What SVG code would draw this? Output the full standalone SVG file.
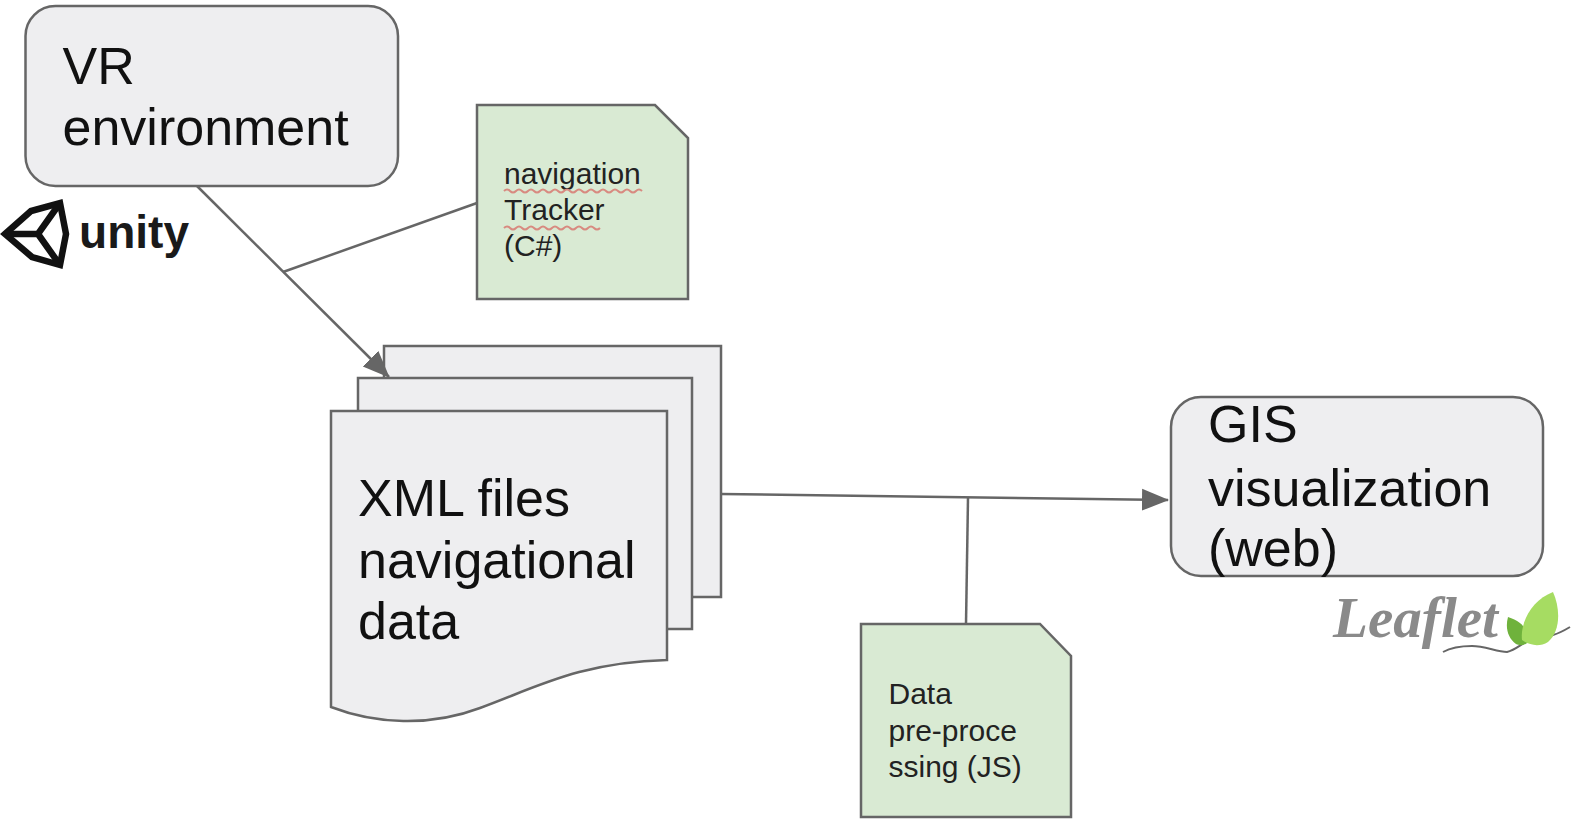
<svg xmlns="http://www.w3.org/2000/svg" width="1583" height="821" viewBox="0 0 1583 821">
<style>
.s{fill:#eeeef0;stroke:#666;stroke-width:2.5}
.n{fill:#d9ead3;stroke:#666;stroke-width:2.5}
.big{font-family:"Liberation Sans",Arial,sans-serif;font-size:52px;fill:#111}
.sm{font-family:"Liberation Sans",Arial,sans-serif;font-size:30px;fill:#222}
.c{fill:none;stroke:#666;stroke-width:2.5}
.w{fill:none;stroke:#d88a80;stroke-width:2}
</style>
<defs>
<marker id="a" markerUnits="userSpaceOnUse" markerWidth="30" markerHeight="24" refX="26" refY="12" orient="auto">
<path d="M0 1L27 12L0 23Z" fill="#666"/>
</marker>
</defs>
<rect width="1583" height="821" fill="#fff"/>
<g id="vr">
<rect class="s" x="25.500" y="6" width="372.500" height="180" rx="30"/>
<text class="big" x="62.500" y="84">VR</text>
<text class="big" x="62.500" y="145">environment</text>
</g>
<g id="unity">
<g fill="none" stroke="#111" stroke-width="6.500" stroke-linejoin="miter">
<path d="M5 234L31 211L60 203L66 234L60 265L32 257Z"/>
<path d="M5 234H38L60 203M38 234L60 265"/>
</g>
<text x="79" y="248" font-family="'Liberation Sans',Arial,sans-serif" font-weight="700" font-size="46px" fill="#1a1a1a" textLength="110" lengthAdjust="spacingAndGlyphs">unity</text>
</g>
<g id="tracker">
<path class="n" d="M477 105H655L688 138V299H477Z"/>
<text class="sm" x="504" y="183.500">navigation</text>
<text class="sm" x="504" y="219.500">Tracker</text>
<text class="sm" x="504" y="256">(C#)</text>
<path class="w" d="M504 191q3-3 6 0t6 0t6 0t6 0t6 0t6 0t6 0t6 0t6 0t6 0t6 0t6 0t6 0t6 0t6 0t6 0t6 0t6 0t6 0t6 0t6 0t6 0t6 0"/>
<path class="w" d="M504 228q3-3 6 0t6 0t6 0t6 0t6 0t6 0t6 0t6 0t6 0t6 0t6 0t6 0t6 0t6 0t6 0t6 0"/>
</g>
<g id="xml">
<path class="s" d="M384 346H721V597H384Z"/>
<path class="s" d="M358 378H692V629H358Z"/>
<path class="s" d="M331 411H667V660C580 662 535 688 480 708C430 727 375 724 331 707Z"/>
<text class="big" x="358" y="516">XML files</text>
<text class="big" x="358" y="578">navigational</text>
<text class="big" x="358" y="639">data</text>
</g>
<g id="gis">
<rect class="s" x="1171" y="397" width="372" height="179" rx="30"/>
<text class="big" x="1208" y="442">GIS</text>
<text class="big" x="1208" y="506">visualization</text>
<text class="big" x="1208" y="566">(web)</text>
</g>
<g id="leaflet">
<text x="1333" y="637" font-family="'Liberation Serif',serif" font-style="italic" font-weight="700" font-size="56px" fill="#8a8a8a" textLength="165" lengthAdjust="spacingAndGlyphs">Leaflet</text>
<path d="M1443 652C1452 647 1462 646 1472 646C1485 646 1497 652 1507 652C1516 650 1522 643 1530 640C1540 640 1548 638 1553 635C1560 633 1565 630 1570 627" fill="none" stroke="#666" stroke-width="2"/>
<path d="M1508 617C1517 620 1524 624 1526 632L1530 640C1526 646 1520 646 1516 644C1508 638 1505 628 1508 617Z" fill="#6fb23c"/>
<path d="M1553 592C1561 610 1560 632 1548 642C1540 647 1530 646 1522 640C1520 622 1532 600 1553 592Z" fill="#a6dc62"/>
</g>
<g id="preprocess">
<path class="n" d="M861 624H1040L1071 656V817H861Z"/>
<text class="sm" x="888.500" y="703.500">Data</text>
<text class="sm" x="888.500" y="740.500">pre-proce</text>
<text class="sm" x="888.500" y="776.500">ssing (JS)</text>
</g>
<g id="connectors">
<path class="c" d="M197 186L389 377" marker-end="url(#a)"/>
<path class="c" d="M283 272L477 203"/>
<path class="c" d="M721 494L1168 500" marker-end="url(#a)"/>
<path class="c" d="M968 498L966 624"/>
</g>
</svg>
